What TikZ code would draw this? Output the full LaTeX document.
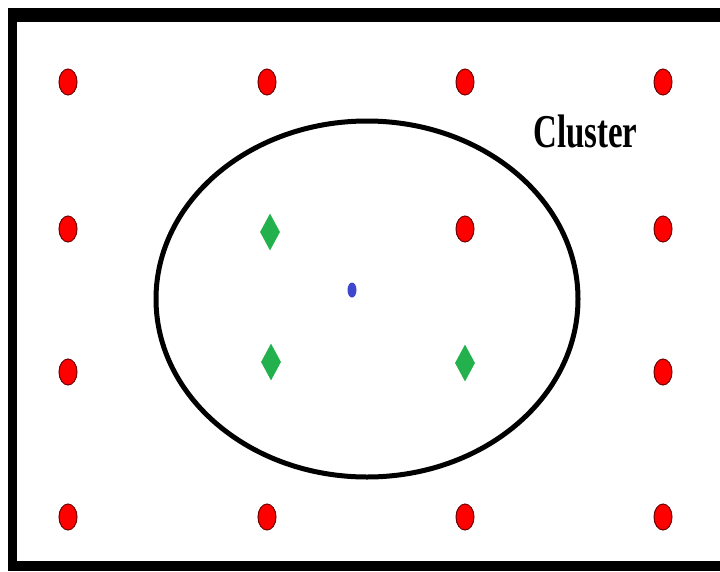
\documentclass[tikz,border=0pt]{standalone}
\usepackage{fontspec}
\setmainfont{Liberation Serif}
\usetikzlibrary{shapes.geometric}
\definecolor{ptred}{RGB}{255,0,0}
\definecolor{ptdarkred}{RGB}{110,0,0}
\definecolor{ptgreen}{RGB}{34,177,76}
\definecolor{ptblue}{RGB}{63,72,204}

\begin{document}
\begin{tikzpicture}[x=1pt, y=-1pt,
        point/.style={ellipse, fill=ptred, draw=ptdarkred, line width=1pt, minimum width=18pt, minimum height=26pt, inner sep=0pt},
        member/.style={diamond, fill=ptgreen, minimum width=20pt, minimum height=37pt, inner sep=0pt},
        centroid/.style={ellipse, fill=ptblue, minimum width=9pt, minimum height=15pt, inner sep=0pt}
      ]
      \useasboundingbox (0,0) rectangle (720,571);
      % frame, right side runs off the page
      \fill[black] (8,8) rectangle (720,22);
      \fill[black] (8,8) rectangle (17,571);
      \fill[black] (8,561) rectangle (720,571);
      % grid of points, the cluster members take three of the places
      \foreach \x/\y/\n in {68/82/11,267/82/12,465/82/13,663/82/14,
          68/229/21,465/229/23,663/229/24,
          68/372/31,663/372/34,
          68/517/41,267/517/42,465/517/43,663/517/44}
        \node[point] (p\n) at (\x,\y) {};
      \node[member] (m1) at (270,232) {};
      \node[member] (m2) at (271,362) {};
      \node[member] (m3) at (465,363) {};
      \node[centroid] (ctr) at (352,290) {};
      \draw[line width=5pt] (367,299) ellipse [x radius=211, y radius=178];
      \node[anchor=base, inner sep=0pt] (lbl) at (585.5,147) {\scalebox{0.7}[1]{\fontsize{47}{47}\selectfont\bfseries Cluster}};
    \end{tikzpicture}
\end{document}
